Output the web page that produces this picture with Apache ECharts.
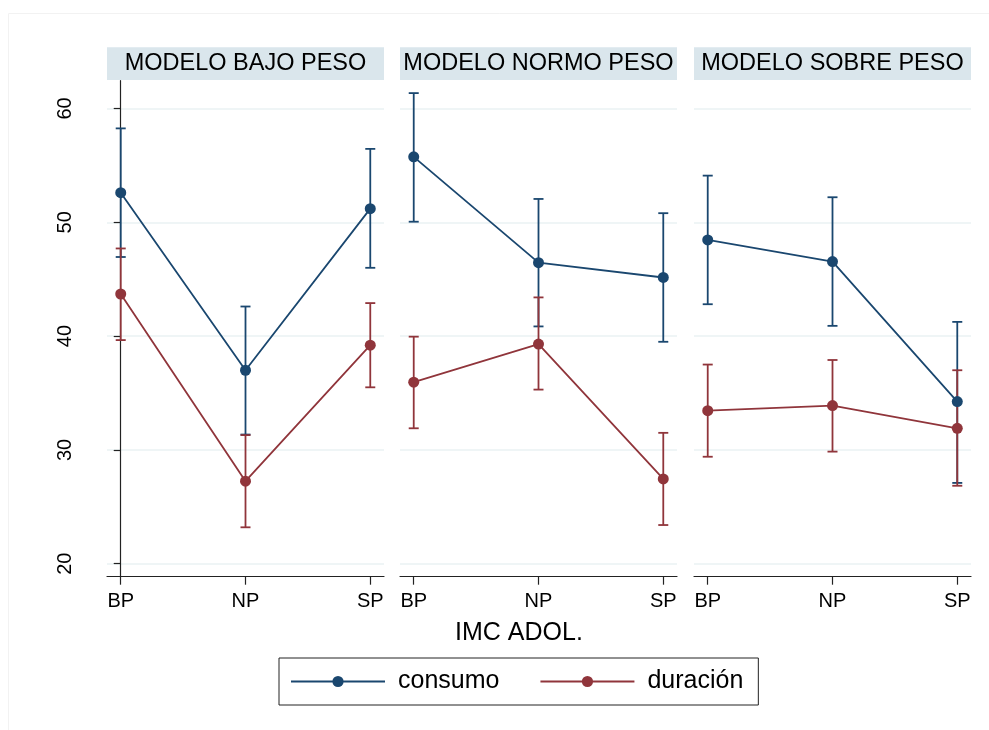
<!DOCTYPE html>
<html>
<head>
<meta charset="utf-8">
<title>IMC ADOL.</title>
<script src="https://cdn.jsdelivr.net/npm/echarts@6/dist/echarts.min.js"></script>
<style>
  html, body { margin: 0; padding: 0; background: #fff; }
  #chart { width: 989px; height: 730px; }
</style>
</head>
<body>
<div id="chart"></div>
<script>
// datos
const categories = ["BP", "NP", "SP"];
const panelTitles = ["MODELO BAJO PESO", "MODELO NORMO PESO", "MODELO SOBRE PESO"];
const yTicks = [20, 30, 40, 50, 60];

// una fila por panel: BP, NP, SP
const consumoMean = [[52.6, 37.0, 51.2], [55.75, 46.45, 45.15], [48.45, 46.55, 34.25]];
const consumoLow  = [[46.95, 31.35, 46.0], [50.05, 40.85, 39.5], [42.8, 40.9, 27.1]];
const consumoHigh = [[58.25, 42.6, 56.45], [61.35, 52.05, 50.8], [54.1, 52.2, 41.25]];

const duracionMean = [[43.7, 27.25, 39.2], [35.95, 39.3, 27.45], [33.45, 33.9, 31.9]];
const duracionLow  = [[39.65, 23.2, 35.5], [31.9, 35.3, 23.4], [29.4, 29.85, 26.85]];
const duracionHigh = [[47.7, 31.3, 42.9], [39.95, 43.4, 31.5], [37.5, 37.9, 37.0]];

const NAVY = "#1a476f";
const MAROON = "#90353b";
const FONT = "'Liberation Sans', Arial, sans-serif";

const panelLeft = [107, 400, 694];
const panelWidth = 277;
const plotTop = 80.7;
const plotHeight = 496;

const chart = echarts.init(document.getElementById("chart"));

// barras de error
function renderErrorBar(params, api) {
  const x = api.value(0);
  const lo = api.coord([x, api.value(1)]);
  const hi = api.coord([x, api.value(2)]);
  const half = 5;
  const style = { stroke: api.visual("color"), lineWidth: 1.8 };
  return {
    type: "group",
    children: [
      { type: "line", shape: { x1: lo[0], y1: hi[1], x2: lo[0], y2: lo[1] }, style },
      { type: "line", shape: { x1: lo[0] - half, y1: hi[1], x2: lo[0] + half, y2: hi[1] }, style },
      { type: "line", shape: { x1: lo[0] - half, y1: lo[1], x2: lo[0] + half, y2: lo[1] }, style }
    ]
  };
}

const grids = [];
const xAxes = [];
const yAxes = [];
const series = [];
const graphics = [];

panelTitles.forEach((title, p) => {
  grids.push({ left: panelLeft[p], top: plotTop, width: panelWidth, height: plotHeight });

  xAxes.push({
    type: "value",
    gridIndex: p,
    min: -0.11,
    max: 2.11,
    axisLine: { show: true, lineStyle: { color: "#222", width: 1.2 } },
    axisTick: { show: true, length: 8, customValues: [0, 1, 2], lineStyle: { color: "#222", width: 1.2 } },
    axisLabel: {
      customValues: [0, 1, 2],
      formatter: (v) => categories[Math.round(v)],
      fontSize: 20,
      fontFamily: FONT,
      color: "#000",
      margin: 15
    },
    splitLine: { show: false }
  });

  const first = p === 0;
  yAxes.push({
    type: "value",
    gridIndex: p,
    min: 18.86,
    max: 62.44,
    axisLine: { show: first, lineStyle: { color: "#222", width: 1.2 } },
    axisTick: { show: first, length: 7, customValues: yTicks, lineStyle: { color: "#222", width: 1.2 } },
    axisLabel: {
      show: first,
      customValues: yTicks,
      rotate: 90,
      fontSize: 20,
      fontFamily: FONT,
      color: "#000",
      margin: 32
    },
    splitLine: { show: true, lineStyle: { color: "#eaf2f3", width: 1.5 } }
  });

  const sets = [
    { name: "consumo", color: NAVY, mean: consumoMean[p], low: consumoLow[p], high: consumoHigh[p] },
    { name: "duración", color: MAROON, mean: duracionMean[p], low: duracionLow[p], high: duracionHigh[p] }
  ];

  sets.forEach((s) => {
    series.push({
      name: s.name + " IC",
      type: "custom",
      xAxisIndex: p,
      yAxisIndex: p,
      renderItem: renderErrorBar,
      itemStyle: { color: s.color },
      encode: { x: 0, y: [1, 2] },
      data: categories.map((c, i) => [i, s.low[i], s.high[i]]),
      z: 2
    });
  });

  sets.forEach((s) => {
    series.push({
      name: s.name,
      type: "line",
      xAxisIndex: p,
      yAxisIndex: p,
      data: categories.map((c, i) => [i, s.mean[i]]),
      symbol: "circle",
      symbolSize: 11,
      lineStyle: { color: s.color, width: 1.8 },
      itemStyle: { color: s.color },
      z: 3
    });
  });

  // cabecera del panel
  graphics.push({
    type: "rect",
    shape: { x: panelLeft[p], y: 47.3, width: panelWidth, height: 32.7 },
    style: { fill: "#dae6ec" },
    silent: true
  });
  graphics.push({
    type: "text",
    x: panelLeft[p] + panelWidth / 2,
    y: 63.5,
    style: {
      text: title,
      fontSize: 23.5,
      fontFamily: FONT,
      fill: "#000",
      align: "center",
      verticalAlign: "middle"
    },
    silent: true
  });
});

// marco tenue exterior
graphics.push({
  type: "rect",
  shape: { x: 8.5, y: 13.5, width: 990, height: 730 },
  style: { fill: "none", stroke: "#f2f2f2", lineWidth: 1 },
  silent: true,
  z: -1
});

// título del eje x
graphics.push({
  type: "text",
  x: 519,
  y: 633,
  style: {
    text: "IMC ADOL.",
    fontSize: 25,
    fontFamily: FONT,
    fill: "#000",
    align: "center",
    verticalAlign: "middle"
  },
  silent: true
});

chart.setOption({
  backgroundColor: "#fff",
  animation: false,
  grid: grids,
  xAxis: xAxes,
  yAxis: yAxes,
  legend: {
    data: ["consumo", "duración"],
    left: 279,
    top: 658,
    orient: "horizontal",
    itemWidth: 94,
    itemHeight: 14,
    itemGap: 40,
    padding: [11, 15, 11, 11],
    borderColor: "#222",
    borderWidth: 1,
    textStyle: { fontSize: 25, fontFamily: FONT, color: "#000", padding: [0, 0, 0, 8] },
    selectedMode: false
  },
  graphic: graphics,
  series: series
});
</script>
</body>
</html>
